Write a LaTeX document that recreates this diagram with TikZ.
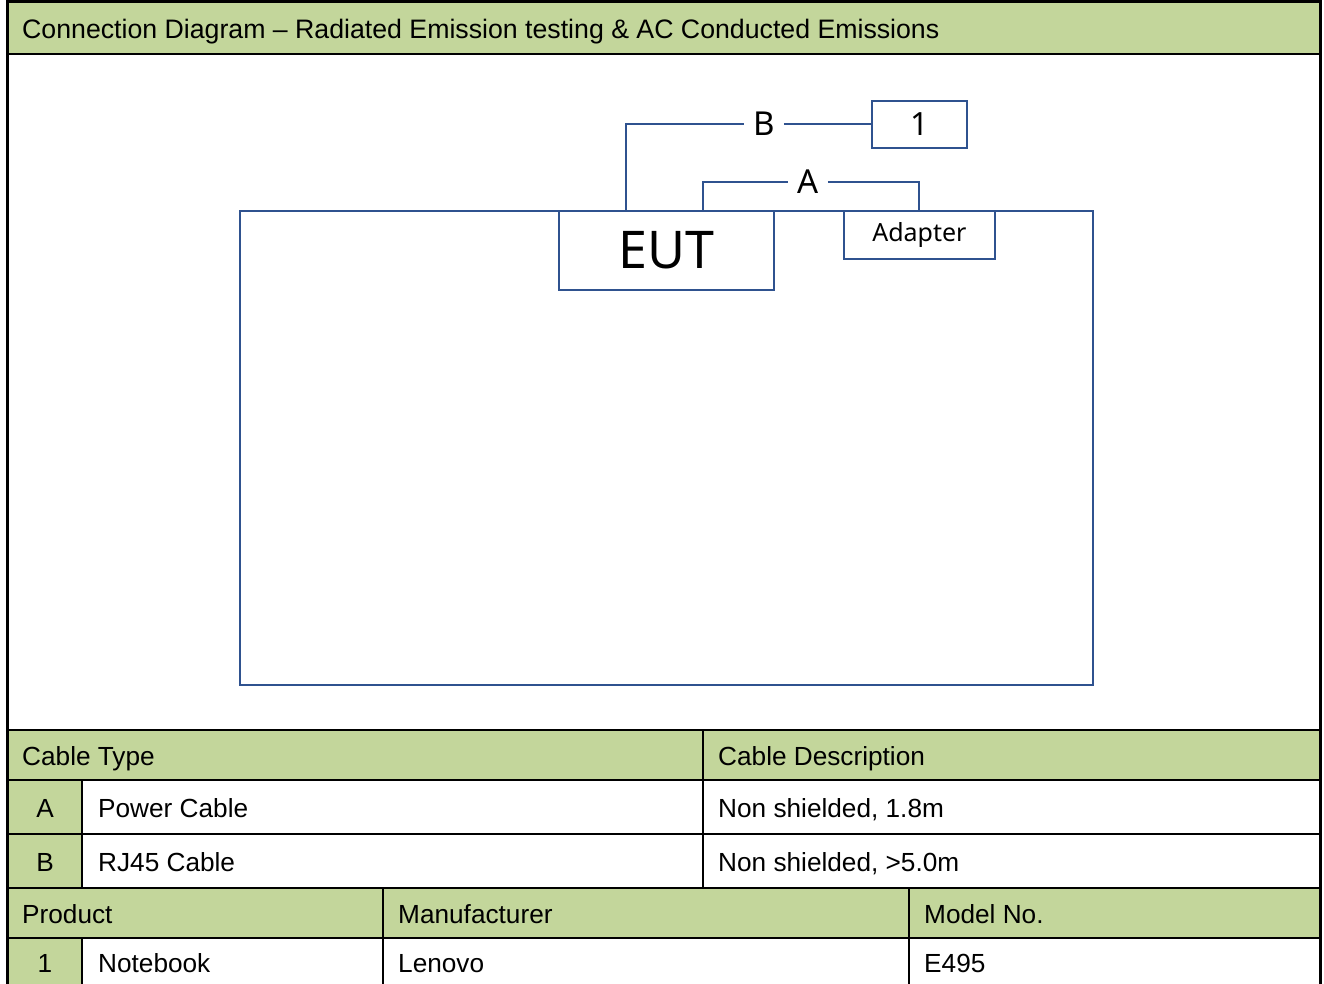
\documentclass[tikz,border=0pt]{standalone}
\usepackage{fontspec}
\setmainfont{Liberation Sans}
\newfontfamily\diafont{Noto Sans}
\definecolor{hdrgreen}{RGB}{195,214,155}
\definecolor{linkblue}{RGB}{47,82,143}
\tikzset{
  box/.style={draw=linkblue, line width=1.8pt, inner sep=0pt, anchor=north west},
  cable/.style={draw=linkblue, line width=1.8pt},
  cablelabel/.style={inner xsep=9pt, inner ysep=0pt, font=\diafont\fontsize{33}{33}\selectfont},
  cell/.style={anchor=base west, inner sep=0pt, font=\fontsize{26.2}{30}\selectfont},
  grid/.style={line width=2.2pt},
}

\begin{document}
\begin{tikzpicture}[x=1pt,y=-1pt]
\useasboundingbox (0,0) rectangle (1324,984);
% header bands
\fill[hdrgreen] (7,2) rectangle (1320,54);
\fill[hdrgreen] (7,730) rectangle (1320,780);
\fill[hdrgreen] (7,888) rectangle (1320,938);
\fill[hdrgreen] (7,780) rectangle (82,888);
\fill[hdrgreen] (7,938) rectangle (82,984);
% frame and grid
\draw[line width=3pt] (7,984) -- (7,2) -- (1320,2) -- (1320,984);
\foreach \y in {54,730,780,834,888,938}
  \draw[grid] (7,\y) -- (1320,\y);
\draw[grid] (82,780) -- (82,888);
\draw[grid] (82,938) -- (82,984);
\draw[grid] (703,730) -- (703,888);
\draw[grid] (383,888) -- (383,984);
\draw[grid] (909,888) -- (909,984);

\node[cell, font=\fontsize{26.7}{30}\selectfont] (title) at (22,39) {Connection Diagram -- Radiated Emission testing \& AC Conducted Emissions};

% setup
\node[box, minimum width=853pt, minimum height=474pt] (bench) at (239,210) {};
\node[box, minimum width=215pt, minimum height=79pt, font=\diafont\fontsize{52}{52}\selectfont] (eut) at (558,210) {EUT};
\node[box, minimum width=151pt, minimum height=48pt, font=\diafont\fontsize{25}{25}\selectfont] (adapter) at (843,210) {Adapter};
\node[box, minimum width=95pt, minimum height=47pt, font=\diafont\fontsize{32}{32}\selectfont] (pc) at (871,100) {1};
\node[cablelabel] (labB) at (764,124) {B};
\node[cablelabel] (labA) at (808,182) {A};
\coordinate (eutB) at (626,210);
\coordinate (eutA) at (703,210);
\coordinate (adpA) at (919,210);
\draw[cable] (eutB) |- (labB);
\draw[cable] (labB) -- (labB -| pc.west);
\draw[cable] (eutA) |- (labA);
\draw[cable] (labA) -| (adpA);

% cable table
\node[cell] (typehdr) at (22,765) {Cable Type};
\node[cell] (deschdr) at (718,765) {Cable Description};
\node[cell, anchor=base] (typeA) at (45,817) {A};
\node[cell] (nameA) at (98,817) {Power Cable};
\node[cell] (descA) at (718,817) {Non shielded, 1.8m};
\node[cell, anchor=base] (typeB) at (45,871) {B};
\node[cell] (nameB) at (98,871) {RJ45 Cable};
\node[cell] (descB) at (718,871) {Non shielded, >5.0m};

% product table
\node[cell] (prodhdr) at (22,923) {Product};
\node[cell] (manuhdr) at (398,923) {Manufacturer};
\node[cell] (modelhdr) at (924,923) {Model No.};
\node[cell, anchor=base] (prodno) at (45,972) {1};
\node[cell] (prodname) at (98,972) {Notebook};
\node[cell] (prodmanu) at (398,972) {Lenovo};
\node[cell] (prodmodel) at (924,972) {E495};
\end{tikzpicture}
\end{document}
